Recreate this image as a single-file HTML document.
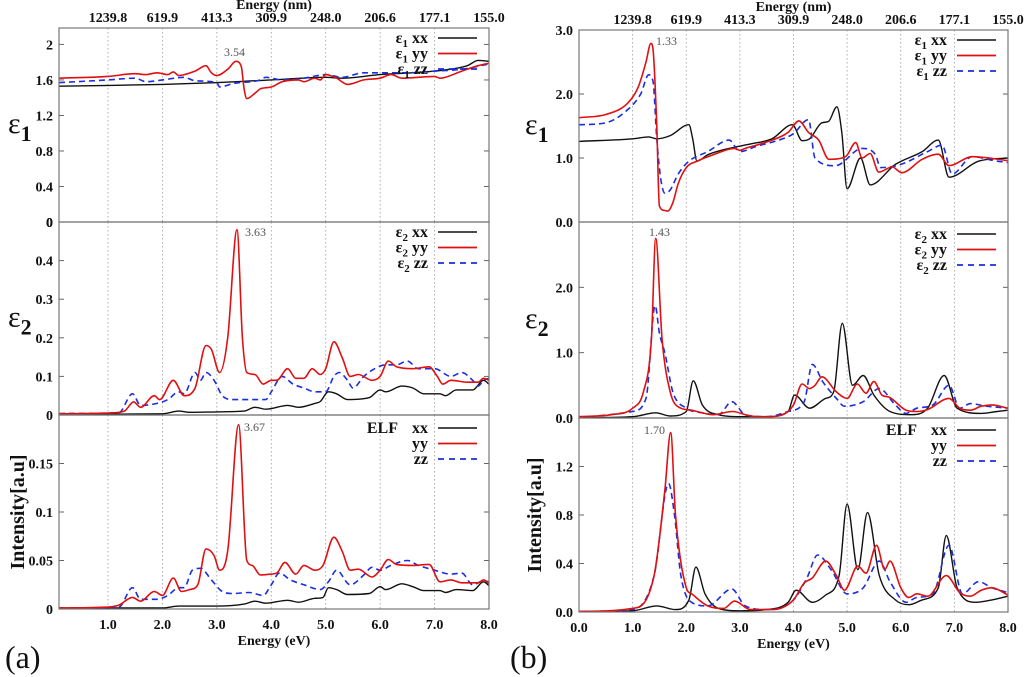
<!DOCTYPE html>
<html><head><meta charset="utf-8">
<style>
html,body{margin:0;padding:0;background:#fff;}
svg{display:block;}
text{font-family:"Liberation Serif","DejaVu Serif",serif;}
.tk{font-size:14px;font-weight:bold;fill:#111;}
.lg{font-size:16px;font-weight:bold;fill:#111;}
.ann{font-size:12px;fill:#555;}
</style></head>
<body>
<svg id="chart" width="1024" height="677" viewBox="0 0 1024 677" xmlns="http://www.w3.org/2000/svg"></svg>
<script>
// ---------- Data (a) ----------
const aE1xxE=[0.1,2,3,4,5,5.3,6,7,7.6,7.8,8];
const aE1xxV=[1.53,1.55,1.57,1.6,1.63,1.62,1.66,1.7,1.76,1.82,1.81];
const aE1yyE=[0.1,1,1.5,1.7,1.9,2.1,2.2,2.3,2.6,2.8,2.9,3.0,3.2,3.35,3.45,3.5,3.55,3.7,3.8,4.0,4.2,4.5,4.6,4.8,4.9,5.0,5.2,5.4,5.7,6.0,6.2,6.4,7,7.1,7.5,7.8,8];
const aE1yyV=[1.62,1.64,1.67,1.66,1.68,1.66,1.69,1.65,1.7,1.76,1.68,1.65,1.72,1.81,1.75,1.5,1.39,1.45,1.5,1.52,1.58,1.6,1.58,1.62,1.6,1.66,1.62,1.55,1.6,1.62,1.66,1.62,1.64,1.62,1.7,1.76,1.79];
const aE1zzE=[0.1,1.0,1.5,1.7,2.0,2.4,2.6,3.0,3.05,3.3,3.8,3.9,4.2,4.6,5.0,5.3,5.7,6.5,7,7.5,8];
const aE1zzV=[1.57,1.6,1.62,1.58,1.6,1.63,1.59,1.57,1.52,1.56,1.6,1.63,1.6,1.62,1.66,1.63,1.68,1.68,1.7,1.72,1.78];

const aE2yyE=[0.1,1.0,1.3,1.47,1.6,1.85,1.95,2.2,2.4,2.6,2.8,2.9,3.05,3.2,3.37,3.47,3.55,3.7,3.85,4.0,4.1,4.3,4.45,4.6,4.75,4.9,5.0,5.15,5.3,5.45,5.6,5.85,6.0,6.15,6.3,6.6,6.9,7.05,7.15,7.3,7.6,7.8,7.9,8.0];
const aE2yyV=[0.003,0.005,0.01,0.034,0.02,0.05,0.04,0.09,0.05,0.07,0.18,0.17,0.11,0.2,0.48,0.2,0.11,0.105,0.08,0.09,0.09,0.12,0.095,0.095,0.12,0.105,0.12,0.19,0.15,0.1,0.105,0.09,0.1,0.14,0.125,0.12,0.125,0.1,0.08,0.09,0.085,0.085,0.095,0.09];
const aE2zzE=[0.1,1.2,1.45,1.6,1.9,2.1,2.3,2.4,2.6,2.7,2.8,2.95,3.1,3.3,3.6,3.9,4.0,4.2,4.4,4.6,4.8,5.0,5.15,5.25,5.4,5.5,5.7,5.9,6.1,6.3,6.5,6.7,7.0,7.3,7.5,7.7,7.8,7.9,8.0];
const aE2zzV=[0.004,0.006,0.055,0.025,0.03,0.04,0.06,0.055,0.11,0.09,0.11,0.09,0.05,0.04,0.04,0.04,0.06,0.1,0.08,0.07,0.06,0.06,0.1,0.11,0.09,0.07,0.1,0.12,0.13,0.13,0.14,0.12,0.12,0.1,0.11,0.09,0.075,0.09,0.095];
const aE2xxE=[0.1,2.0,2.3,2.5,3.0,3.5,3.7,3.9,4.3,4.5,4.8,4.9,5.05,5.2,5.4,5.8,6.0,6.1,6.4,6.6,6.8,7.1,7.2,7.4,7.7,7.9,8.0];
const aE2xxV=[0.002,0.003,0.01,0.007,0.008,0.01,0.02,0.015,0.025,0.02,0.03,0.035,0.06,0.055,0.04,0.045,0.065,0.06,0.075,0.07,0.055,0.055,0.05,0.065,0.065,0.09,0.08];

const aELyyE=[0.1,1.0,1.2,1.45,1.6,1.85,2.0,2.2,2.35,2.5,2.65,2.8,2.95,3.05,3.2,3.4,3.55,3.65,3.8,4.0,4.1,4.25,4.45,4.6,4.8,4.95,5.15,5.3,5.45,5.6,5.85,6.0,6.15,6.3,6.6,6.9,7.1,7.3,7.5,7.8,7.9,8.0];
const aELyyV=[0.001,0.002,0.004,0.012,0.008,0.018,0.014,0.032,0.018,0.02,0.025,0.062,0.055,0.04,0.06,0.19,0.05,0.045,0.035,0.036,0.037,0.048,0.036,0.045,0.04,0.045,0.074,0.06,0.04,0.041,0.033,0.04,0.051,0.046,0.045,0.046,0.028,0.03,0.027,0.027,0.03,0.026];
const aELzzE=[0.1,1.2,1.45,1.6,1.9,2.1,2.3,2.4,2.55,2.7,2.9,3.1,3.3,3.6,3.85,4.0,4.15,4.35,4.6,4.9,5.05,5.2,5.45,5.7,5.85,6.0,6.2,6.5,6.7,7.0,7.3,7.5,7.7,7.9,8.0];
const aELzzV=[0.001,0.002,0.022,0.01,0.01,0.014,0.022,0.022,0.04,0.042,0.03,0.018,0.016,0.017,0.014,0.025,0.037,0.03,0.025,0.02,0.028,0.04,0.025,0.035,0.043,0.04,0.045,0.05,0.045,0.04,0.036,0.037,0.025,0.029,0.028];
const aELxxE=[0.1,2.0,2.3,3.0,3.5,3.7,3.9,4.3,4.5,4.8,4.95,5.05,5.2,5.4,5.8,6.0,6.1,6.4,6.6,6.8,7.1,7.2,7.4,7.7,7.9,8.0];
const aELxxV=[0.001,0.001,0.003,0.003,0.005,0.008,0.006,0.009,0.007,0.011,0.012,0.022,0.02,0.015,0.016,0.023,0.02,0.026,0.023,0.019,0.019,0.017,0.02,0.019,0.028,0.024];

// ---------- Data (b) ----------
const bE1yyE=[0,0.5,0.9,1.1,1.25,1.34,1.38,1.45,1.5,1.6,1.65,1.75,1.85,2.0,2.2,2.5,2.9,3.0,3.1,3.5,3.9,4.1,4.28,4.47,4.66,4.97,5.16,5.28,5.43,5.59,5.84,6.02,6.4,6.7,6.9,7.33,8.0];
const bE1yyV=[1.63,1.68,1.85,2.1,2.5,2.79,2.7,1.5,0.25,0.18,0.17,0.3,0.6,0.85,0.95,1.05,1.15,1.12,1.15,1.25,1.4,1.58,1.4,1.28,0.98,1.02,1.24,1.0,1.07,0.78,0.86,0.77,0.98,1.06,0.88,1.02,0.96];
const bE1zzE=[0,0.5,0.9,1.15,1.3,1.38,1.45,1.52,1.6,1.7,1.85,2.05,2.4,2.8,3.0,3.3,3.8,4.0,4.28,4.4,4.78,5.28,5.53,5.62,6.0,6.5,6.77,6.96,7.33,7.8,8.0];
const bE1zzV=[1.52,1.55,1.75,2.0,2.3,2.2,1.3,0.7,0.45,0.5,0.75,0.95,1.1,1.28,1.1,1.18,1.3,1.38,1.6,1.0,0.88,1.15,1.05,0.85,0.9,1.1,1.2,0.75,1.02,0.95,0.93];
const bE1xxE=[0,1.0,1.3,1.45,1.7,2.05,2.12,2.2,2.4,2.8,3.2,3.6,3.98,4.16,4.3,4.53,4.65,4.81,4.9,5.0,5.25,5.43,5.9,6.4,6.7,6.9,7.45,8.0];
const bE1xxV=[1.26,1.3,1.33,1.3,1.35,1.52,1.3,0.95,1.05,1.15,1.22,1.3,1.52,1.27,1.3,1.55,1.57,1.8,1.4,0.52,1.0,0.58,0.9,1.1,1.28,0.7,0.95,1.0];

const bE2yyE=[0,0.6,1.0,1.2,1.35,1.43,1.55,1.7,1.9,2.1,2.2,2.5,2.86,3.2,3.5,3.8,4.0,4.16,4.3,4.4,4.53,4.8,5.0,5.19,5.35,5.5,5.65,5.78,6.1,6.3,6.5,6.9,7.1,7.3,7.5,7.7,8.0];
const bE2yyV=[0.02,0.05,0.15,0.4,1.2,2.75,1.2,0.4,0.15,0.12,0.1,0.05,0.1,0.03,0.02,0.05,0.2,0.52,0.45,0.5,0.63,0.4,0.3,0.52,0.38,0.56,0.35,0.32,0.12,0.1,0.13,0.3,0.15,0.12,0.18,0.2,0.15];
const bE2zzE=[0,1.0,1.25,1.42,1.5,1.6,1.75,2.0,2.3,2.6,2.85,3.1,3.5,3.9,4.2,4.35,4.55,4.8,4.95,5.3,5.6,5.9,6.1,6.3,6.6,6.9,7.1,7.3,7.6,8.0];
const bE2zzV=[0.01,0.1,0.3,1.72,1.3,1.0,0.4,0.15,0.08,0.05,0.25,0.05,0.02,0.1,0.25,0.82,0.55,0.3,0.18,0.25,0.45,0.2,0.07,0.15,0.2,0.5,0.15,0.22,0.18,0.15];
const bE2xxE=[0,1.0,1.43,1.7,2.0,2.13,2.3,2.6,3.0,3.5,3.9,4.02,4.3,4.6,4.75,4.91,5.1,5.3,5.5,5.8,6.2,6.5,6.81,7.05,7.5,7.8,8.0];
const bE2xxV=[0.005,0.02,0.08,0.03,0.1,0.57,0.2,0.05,0.02,0.02,0.1,0.35,0.15,0.3,0.4,1.45,0.5,0.65,0.35,0.1,0.05,0.15,0.65,0.15,0.07,0.1,0.12];

const bELyyE=[0,1.0,1.4,1.6,1.71,1.8,2.0,2.1,2.4,2.7,2.9,3.2,3.6,4.0,4.2,4.35,4.6,4.8,4.95,5.2,5.35,5.55,5.7,5.8,6.0,6.15,6.3,6.5,6.85,7.1,7.3,7.5,7.7,8.0];
const bELyyV=[0.005,0.03,0.3,1.0,1.48,0.8,0.2,0.15,0.05,0.03,0.09,0.02,0.02,0.1,0.24,0.28,0.42,0.3,0.18,0.38,0.32,0.55,0.35,0.42,0.2,0.12,0.15,0.13,0.3,0.16,0.13,0.18,0.2,0.14];
const bELzzE=[0,1.0,1.4,1.67,1.78,1.9,2.1,2.4,2.85,3.1,3.5,4.0,4.25,4.45,4.7,5.0,5.3,5.6,5.8,6.1,6.3,6.6,6.9,7.15,7.45,7.7,8.0];
const bELzzV=[0.005,0.02,0.3,1.06,0.8,0.3,0.08,0.05,0.19,0.05,0.02,0.1,0.28,0.47,0.35,0.15,0.2,0.42,0.25,0.08,0.12,0.15,0.55,0.15,0.25,0.2,0.16];
const bELxxE=[0,1.0,1.45,1.8,2.05,2.18,2.35,2.6,3.0,3.5,3.9,4.05,4.35,4.6,4.85,5.0,5.2,5.38,5.6,5.9,6.15,6.4,6.7,6.85,7.05,7.4,7.7,8.0];
const bELxxV=[0.003,0.01,0.05,0.02,0.1,0.37,0.15,0.03,0.01,0.02,0.08,0.18,0.08,0.14,0.3,0.89,0.35,0.82,0.3,0.1,0.06,0.1,0.2,0.63,0.2,0.08,0.1,0.13];

// ---------- Rendering ----------
const NS='http://www.w3.org/2000/svg';
const svg=document.getElementById('chart');
function mk(tag,attrs,parent){const e=document.createElementNS(NS,tag);for(const k in attrs)e.setAttribute(k,attrs[k]);(parent||svg).appendChild(e);return e;}
function txt(s,attrs,parent){const e=mk('text',attrs,parent);e.textContent=s;return e;}

function monoPath(px,py){
  const n=px.length;if(n<2)return '';
  const d=[],m=[];
  for(let i=0;i<n-1;i++)d.push((py[i+1]-py[i])/(px[i+1]-px[i]));
  m[0]=d[0];m[n-1]=d[n-2];
  for(let i=1;i<n-1;i++){m[i]=(d[i-1]*d[i]<=0)?0:(d[i-1]+d[i])/2;}
  for(let i=0;i<n-1;i++){if(d[i]===0){m[i]=0;m[i+1]=0;continue;}const a=m[i]/d[i],b=m[i+1]/d[i],s=a*a+b*b;if(s>9){const t=3/Math.sqrt(s);m[i]=t*a*d[i];m[i+1]=t*b*d[i];}}
  let p='M'+px[0].toFixed(1)+','+py[0].toFixed(1);
  for(let i=0;i<n-1;i++){const h=(px[i+1]-px[i])/3;
    p+=' C'+(px[i]+h).toFixed(1)+','+(py[i]+m[i]*h).toFixed(1)+' '+(px[i+1]-h).toFixed(1)+','+(py[i+1]-m[i+1]*h).toFixed(1)+' '+px[i+1].toFixed(1)+','+py[i+1].toFixed(1);}
  return p;
}

const COL={xx:'#111',yy:'#e01010',zz:'#1a2ee0'};
function drawPanel(P){
  const g=mk('g',{});
  
  
  const X=e=>P.x0+(e-P.xmin)/(P.xmax-P.xmin)*(P.x1-P.x0);
  const Y=v=>P.y1-(v/P.ymax)*(P.y1-P.y0);
  for(let e=1;e<=7;e++){const gl=mk('line',{x1:X(e),x2:X(e),y1:P.y0,y2:P.y1,stroke:'#999','stroke-width':0.8,'stroke-dasharray':'1.5,2.5'},g);
    }
  P.ticks.forEach((t,i)=>{const y=Y(t);
    mk('line',{x1:P.x0,x2:P.x0+5,y1:y,y2:y,stroke:'#666'},g);
    mk('line',{x1:P.x1-5,x2:P.x1,y1:y,y2:y,stroke:'#666'},g);
    const lb=txt(P.tickLabels[i],{x:P.x0-6,y:y+5,'text-anchor':'end',class:'tk'},g);
    });
  P.series.forEach(s=>{
    const px=s.e.map(X),py=s.v.map(v=>Y(Math.max(0,Math.min(P.ymax,v))));
    const path=mk('path',{d:monoPath(px,py),fill:'none',stroke:COL[s.k],'stroke-width':s.k==='xx'?1.4:1.6},g);
    if(s.k==='zz')path.setAttribute('stroke-dasharray','6,4');
    
    
  });
  mk('rect',{x:P.x0,y:P.y0,width:P.x1-P.x0,height:P.y1-P.y0,fill:'none',stroke:'#777','stroke-width':1.2},g);
  ['xx','yy','zz'].forEach((k,i)=>{const y=P.ly+i*15.5;
    const t=mk('text',{x:P.lx,y:y+5,'text-anchor':'end',class:'lg'},g);
    
    if(P.sym){t.appendChild(document.createTextNode(P.sym));const sb=mk('tspan',{dy:4,'font-size':11},t);sb.textContent=P.sub;const r=mk('tspan',{dy:-4},t);r.textContent=' '+k;}
    else t.textContent=k;
    const ln=mk('line',{x1:P.lx+10,x2:P.lx+49,y1:y,y2:y,stroke:COL[k],'stroke-width':k==='xx'?1.4:1.8},g);
    if(k==='zz')ln.setAttribute('stroke-dasharray','6,5');
  });
  if(P.elf){const t=txt('ELF',{x:P.lx-30,y:P.ly+5,'text-anchor':'end',class:'lg'},g);}
  const an=txt(P.ann[0],{x:P.ann[1],y:P.ann[2],class:'ann'},g);
  
  return {X,Y};
}

const xTicks=[0,1,2,3,4,5,6,7,8];
const xTickLabels=['0.0','1.0','2.0','3.0','4.0','5.0','6.0','7.0','8.0'];
const nmTickLabels=['1239.8','619.9','413.3','309.9','248.0','206.6','177.1','155.0'];

function side(cfg){
  const rows=cfg.rows;
  rows.forEach((r,i)=>{
    drawPanel(Object.assign({x0:cfg.x0,x1:cfg.x1,xmin:cfg.xmin,xmax:cfg.xmax,y0:r.y0,y1:r.y1,lx:cfg.lx,ly:r.y0+r.lyo},r));
  });
  const X=e=>cfg.x0+(e-cfg.xmin)/(cfg.xmax-cfg.xmin)*(cfg.x1-cfg.x0);
  const yb=rows[2].y1;
  xTicks.forEach((e,i)=>{if(e<cfg.xmin)return;
    const t=txt(xTickLabels[i],{x:X(e),y:yb+20,'text-anchor':'middle',class:'tk'});
    });
  nmTickLabels.forEach((s,i)=>{const t=txt(s,{x:X(i+1),y:rows[0].y0-6,'text-anchor':'middle',class:'tk'});
    });
  const tt=txt('Energy (nm)',{x:(cfg.x0+cfg.x1)/2,y:rows[0].y0-19,'text-anchor':'middle',class:'tk','font-size':13});
  
  const bt=txt('Energy (eV)',{x:(cfg.x0+cfg.x1)/2,y:yb+36,'text-anchor':'middle',class:'tk'});
  
  const e1=mk('text',{x:cfg.yt,y:(rows[0].y0+rows[0].y1)/2+8,'font-size':30,fill:'#111'});
  
  e1.appendChild(document.createTextNode('ε'));let s=mk('tspan',{dy:8,'font-size':22,'font-weight':'bold'},e1);s.textContent='1';
  const e2=mk('text',{x:cfg.yt,y:(rows[1].y0+rows[1].y1)/2+8,'font-size':30,fill:'#111'});
  
  e2.appendChild(document.createTextNode('ε'));s=mk('tspan',{dy:8,'font-size':22,'font-weight':'bold'},e2);s.textContent='2';
  const cy=(rows[2].y0+rows[2].y1)/2;
  const it=txt('Intensity[a.u]',{x:cfg.yt+16,y:cy,'text-anchor':'middle','font-size':20,'font-weight':'bold',fill:'#111',transform:'rotate(-90 '+(cfg.yt+16)+' '+cy+')'});
  
  const pl=txt(cfg.label,{x:cfg.lbx,y:668,'font-size':32,fill:'#111'});
  
}

side({x0:59,x1:489,xmin:0.1,xmax:8,lx:428,yt:8,label:'(a)',lbx:5,rows:[
  {name:'panel-a-eps1',y0:28,y1:222,ymax:2.185,lyo:10,sym:'ε',sub:'1',ticks:[0,0.4,0.8,1.2,1.6,2],tickLabels:['0','0.4','0.8','1.2','1.6','2'],ann:['3.54',224,56],
   series:[{k:'xx',e:aE1xxE,v:aE1xxV},{k:'zz',e:aE1zzE,v:aE1zzV},{k:'yy',e:aE1yyE,v:aE1yyV}]},
  {name:'panel-a-eps2',y0:222,y1:415,ymax:0.5,lyo:10,sym:'ε',sub:'2',ticks:[0,0.1,0.2,0.3,0.4,0.5],tickLabels:['0','0.1','0.2','0.3','0.4','0'],ann:['3.63',245,236],
   series:[{k:'xx',e:aE2xxE,v:aE2xxV},{k:'zz',e:aE2zzE,v:aE2zzV},{k:'yy',e:aE2yyE,v:aE2yyV}]},
  {name:'panel-a-elf',y0:415,y1:609,ymax:0.2,lyo:13,elf:true,ticks:[0,0.05,0.1,0.15],tickLabels:['0','0.05','0.1','0.15'],ann:['3.67',244,431],
   series:[{k:'xx',e:aELxxE,v:aELxxV},{k:'zz',e:aELzzE,v:aELzzV},{k:'yy',e:aELyyE,v:aELyyV}]}
]});
side({x0:579,x1:1008,xmin:0,xmax:8,lx:947,yt:525,label:'(b)',lbx:510,rows:[
  {name:'panel-b-eps1',y0:30,y1:222,ymax:3.0,lyo:10,sym:'ε',sub:'1',ticks:[0,1,2,3],tickLabels:['0.0','1.0','2.0','3.0'],ann:['1.33',656,45],
   series:[{k:'xx',e:bE1xxE,v:bE1xxV},{k:'zz',e:bE1zzE,v:bE1zzV},{k:'yy',e:bE1yyE,v:bE1yyV}]},
  {name:'panel-b-eps2',y0:222,y1:418,ymax:3.0,lyo:12,sym:'ε',sub:'2',ticks:[0,1,2],tickLabels:['0.0','1.0','2.0'],ann:['1.43',649,236],
   series:[{k:'xx',e:bE2xxE,v:bE2xxV},{k:'zz',e:bE2zzE,v:bE2zzV},{k:'yy',e:bE2yyE,v:bE2yyV}]},
  {name:'panel-b-elf',y0:418,y1:612,ymax:1.6,lyo:12,elf:true,ticks:[0,0.4,0.8,1.2],tickLabels:['0.0','0.4','0.8','1.2'],ann:['1.70',644,434],
   series:[{k:'xx',e:bELxxE,v:bELxxV},{k:'zz',e:bELzzE,v:bELzzV},{k:'yy',e:bELyyE,v:bELyyV}]}
]});
</script>
</body></html>
